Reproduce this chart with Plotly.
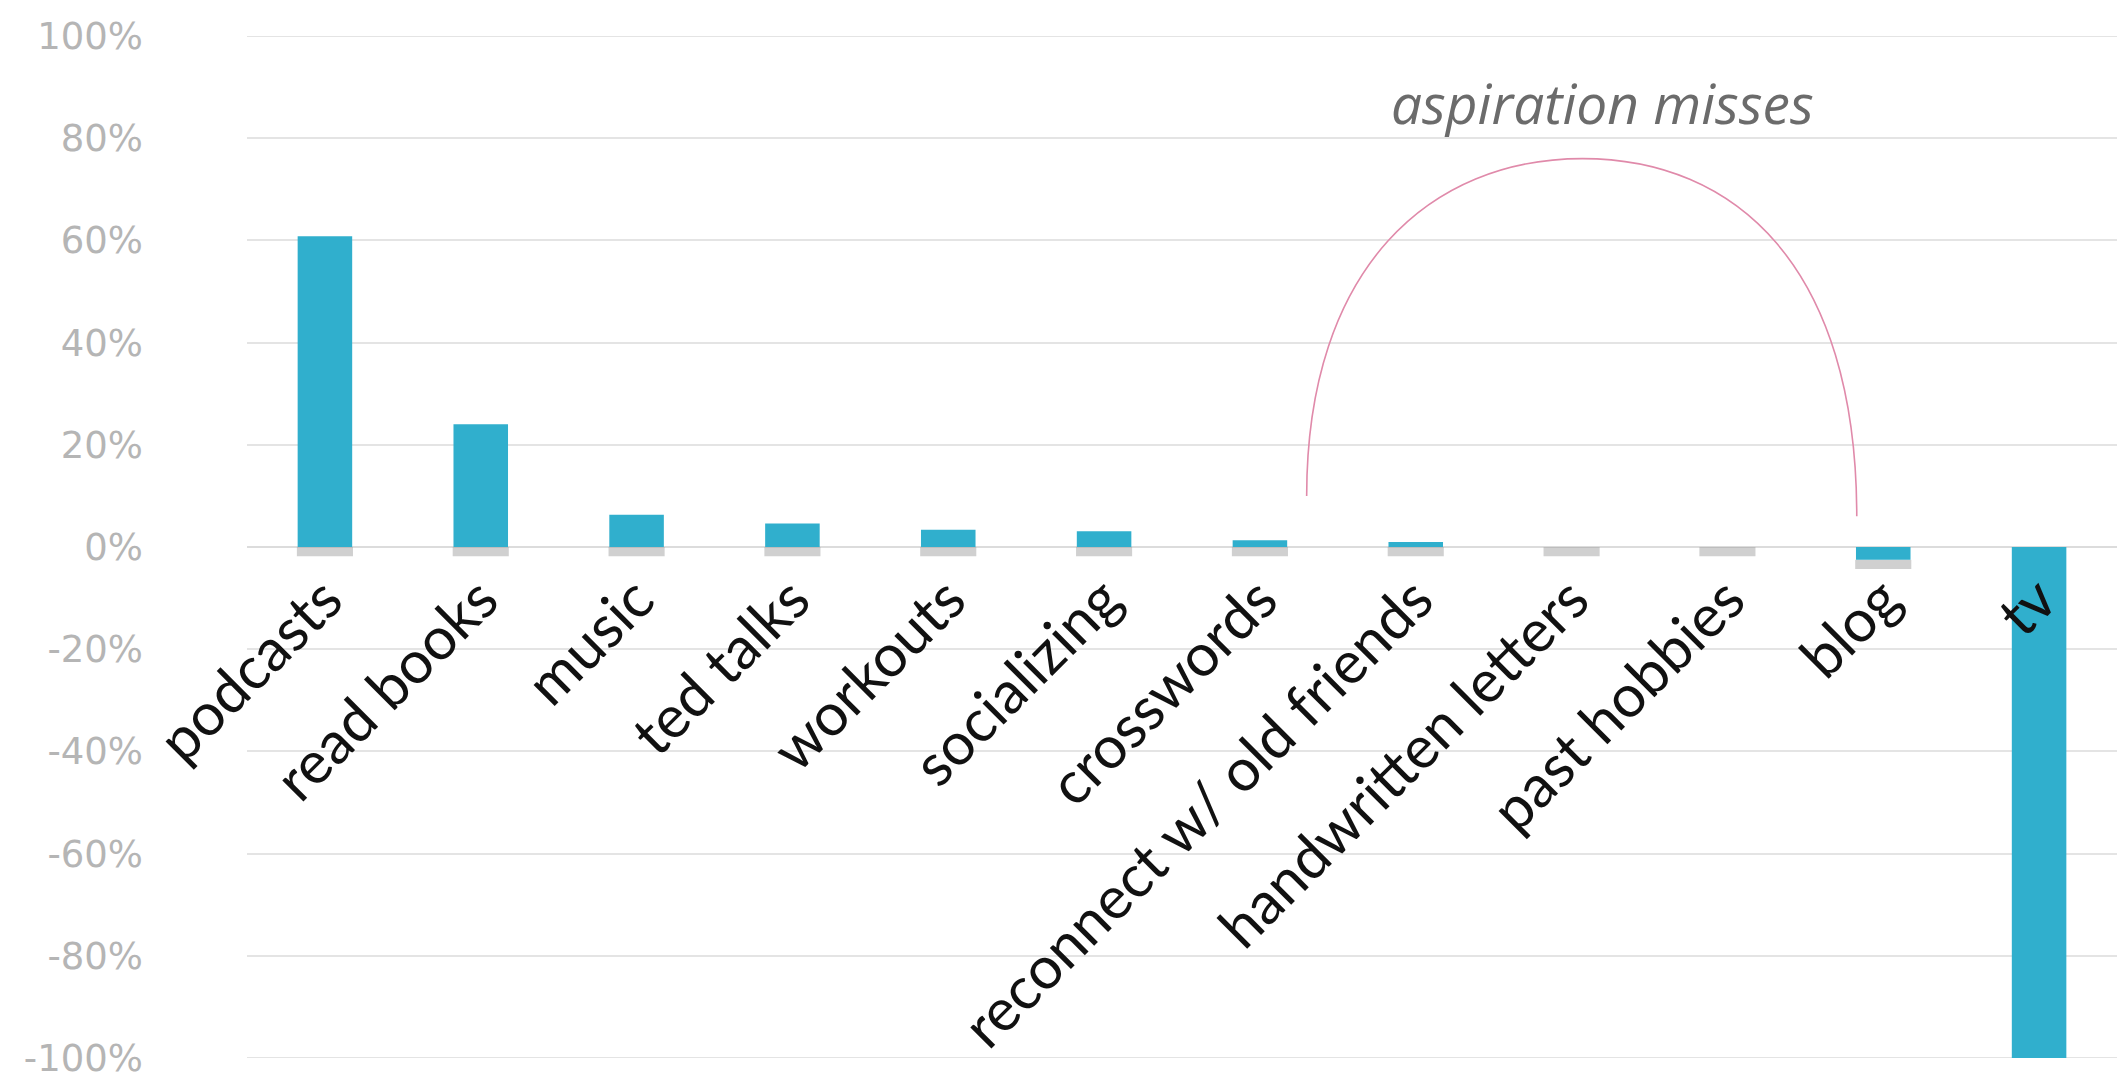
import plotly.graph_objects as go

categories = ["podcasts", "read books", "music", "ted talks", "workouts", "socializing",
              "crosswords", "reconnect w/ old friends", "handwritten letters",
              "past hobbies", "blog", "tv"]
values = [60.8, 24.0, 6.3, 4.6, 3.4, 3.1, 1.3, 1.0, 0.0, 0.0, -2.5, -100.0]
y_ticks = [-100, -80, -60, -40, -20, 0, 20, 40, 60, 80, 100]
y_tick_labels = [f"{v}%" for v in y_ticks]
annotation_text = "aspiration misses"

x_idx = list(range(len(categories)))
shadow_depth = 1.8
shadow_base = [min(v, 0) for v in values]

fig = go.Figure()
# soft drop shadow under each bar
fig.add_trace(go.Bar(
    x=x_idx, y=[-shadow_depth] * len(values), base=shadow_base,
    width=0.36, marker=dict(color="rgba(150,150,150,0.45)", line=dict(width=0)),
    hoverinfo="skip", showlegend=False))
fig.add_trace(go.Bar(
    x=x_idx, y=values, width=0.35,
    marker=dict(color="#30afcd", line=dict(width=0)),
    showlegend=False))

# gridlines at the range ends (plotly omits them at the plot edges)
for yv in (y_ticks[0], y_ticks[-1]):
    fig.add_shape(type="line", xref="paper", yref="y", x0=0, x1=1, y0=yv, y1=yv,
                  line=dict(color="#e4e4e4", width=2), layer="below")

# arc annotation (in data coordinates)
fig.add_shape(type="path", xref="x", yref="y",
              path="M 6.3,10 C 6.3,55 7.1,76 8.07,76 C 9.05,76 9.83,55 9.83,6",
              line=dict(color="#e08aaa", width=1.6))
fig.add_annotation(x=8.2, y=87, xref="x", yref="y", text=f"<i>{annotation_text}</i>",
                   showarrow=False, font=dict(family="Open Sans", size=55, color="#6b6b6b"),
                   xanchor="center", yanchor="middle")

fig.update_layout(
    width=2117, height=1080,
    margin=dict(l=247, r=0, t=36, b=22),
    plot_bgcolor="white", paper_bgcolor="white",
    bargap=0.65, barmode="overlay",
    font=dict(family="Lato"),
)
fig.update_xaxes(
    range=[-0.5, len(categories) - 0.5],
    tickvals=x_idx, ticktext=categories, tickangle=-45,
    tickfont=dict(family="Lato", size=59, color="#111111"),
    anchor="free", position=0.5, showgrid=False, showline=False,
    zeroline=False, ticks="", ticklabelstandoff=5, automargin=False,
)
fig.update_yaxes(
    range=[-100, 100], tickvals=y_ticks, ticktext=y_tick_labels,
    tickfont=dict(family="DejaVu Sans", size=37, color="#b5b5b5"),
    showgrid=True, gridcolor="#e4e4e4", gridwidth=2,
    zeroline=True, zerolinecolor="#dcdcdc", zerolinewidth=2,
    showline=False, ticks="", ticklabelstandoff=103, automargin=False,
    ticklabeloverflow="allow",
)

fig.write_html("out.html")
